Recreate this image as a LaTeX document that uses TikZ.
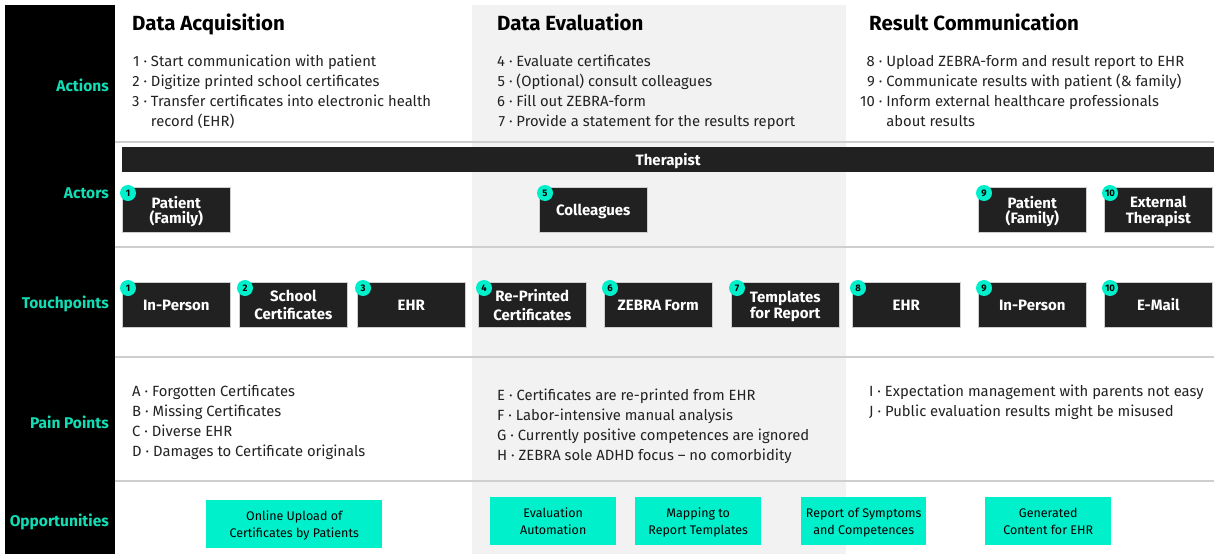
\documentclass[tikz,border=0pt]{standalone}
\usepackage{fontspec}
\setmainfont{Fira Sans}
\usetikzlibrary{positioning}

\definecolor{boxcolor}{RGB}{33,33,33}
\definecolor{accentcolor}{RGB}{0,240,204}
\definecolor{labelcolor}{RGB}{18,222,182}
\definecolor{bandcolor}{RGB}{242,242,242}
\definecolor{rulecolor}{RGB}{206,206,206}
\definecolor{textcolor}{RGB}{34,34,34}

\tikzset{
  rowlabel/.style={anchor=east, text=labelcolor, font=\bfseries\fontsize{15.5}{17}\selectfont, inner sep=0pt},
  heading/.style={anchor=base west, text=black, font=\bfseries\fontsize{20.5}{22}\selectfont, inner sep=0pt},
  listtext/.style={anchor=north west, text=textcolor, align=left, inner sep=0pt, font=\fontsize{14.8}{20}\selectfont},
  darkbox/.style={anchor=north west, fill=boxcolor, draw=rulecolor, line width=0.6pt, text=white, align=center,
    minimum width=108, minimum height=45, inner sep=0pt, text depth=0pt, font=\bfseries\fontsize{15}{15.5}\selectfont},
  badge/.style={circle, fill=accentcolor, text=black, inner sep=0pt, minimum size=16, font=\bfseries\fontsize{9.5}{10}\selectfont},
  oppbox/.style={anchor=north west, fill=accentcolor, text=black, align=center, minimum height=48, inner sep=0pt,
    text depth=0pt, font=\fontsize{12.5}{17}\selectfont}
}

\begin{document}
\begin{tikzpicture}[x=1pt, y=-1pt]
  \useasboundingbox (0,0) rectangle (1214,554);

  % Shaded middle phase and the dark label column
  \fill[bandcolor] (472,5) rectangle (846,554);
  \fill[black] (5,5) rectangle (115,554);

  % Rules between the rows
  \draw[rulecolor, line width=1.5pt] (115,142) -- (1214,142);
  \draw[rulecolor, line width=1.5pt] (115,247) -- (1214,247);
  \draw[rulecolor, line width=1.5pt] (115,357) -- (1214,357);
  \draw[rulecolor, line width=1.5pt] (115,481) -- (1214,481);

  % Row names
  \node[rowlabel] (lactions) at (109,85) {Actions};
  \node[rowlabel] (lactors) at (109,193) {Actors};
  \node[rowlabel] (ltouch) at (109,304) {Touchpoints};
  \node[rowlabel] (lpain) at (109,422) {Pain Points};
  \node[rowlabel] (lopp) at (109,522) {Opportunities};

  % Phase titles
  \node[heading] (hacq) at (132,30.5) {Data Acquisition};
  \node[heading] (heval) at (497,30.5) {Data Evaluation};
  \node[heading] (hcomm) at (869,30.5) {Result Communication};

  % Actions
  \node[listtext] (act1) at (132,52) {\begin{tabular}{@{}r@{ }c@{ }l@{}}
    1 & · & Start communication with patient\\
    2 & · & Digitize printed school certificates\\
    3 & · & Transfer certificates into electronic health\\
      &   & record (EHR)
  \end{tabular}};
  \node[listtext] (act2) at (497,52) {\begin{tabular}{@{}r@{ }c@{ }l@{}}
    4 & · & Evaluate certificates\\
    5 & · & (Optional) consult colleagues\\
    6 & · & Fill out ZEBRA-form\\
    7 & · & Provide a statement for the results report
  \end{tabular}};
  \node[listtext] (act3) at (860,52) {\begin{tabular}{@{}r@{ }c@{ }l@{}}
    8 & · & Upload ZEBRA-form and result report to EHR\\
    9 & · & Communicate results with patient (\& family)\\
    10 & · & Inform external healthcare professionals\\
       &   & about results
  \end{tabular}};

  % Actors
  \node[anchor=north west, fill=boxcolor, text=white, minimum width=1092, minimum height=25, inner sep=0pt,
    text depth=0pt, font=\bfseries\fontsize{15}{15}\selectfont] (therapist) at (122,147) {Therapist};
  \node[darkbox] (ac1) at (122,187) {Patient\\(Family)};
  \node[darkbox] (ac5) at (539,187) {Colleagues};
  \node[darkbox] (ac9) at (978,187) {Patient\\(Family)};
  \node[darkbox] (ac10) at (1104,187) {External\\Therapist};
  \node[badge] (bac1) at ([shift={(6,6)}]ac1.north west) {1};
  \node[badge] (bac5) at ([shift={(6,6)}]ac5.north west) {5};
  \node[badge] (bac9) at ([shift={(6,6)}]ac9.north west) {9};
  \node[badge] (bac10) at ([shift={(6,6)}]ac10.north west) {10};

  % Touchpoints
  \node[darkbox] (tp1) at (122,282) {In-Person};
  \node[darkbox] (tp2) at (239,282) {School\\[3pt]Certificates};
  \node[darkbox] (tp3) at (357,282) {EHR};
  \node[darkbox] (tp4) at (478,282) {Re-Printed\\[3pt]Certificates};
  \node[darkbox] (tp6) at (604,282) {ZEBRA Form};
  \node[darkbox] (tp7) at (731,282) {Templates\\for Report};
  \node[darkbox] (tp8) at (852,282) {EHR};
  \node[darkbox] (tp9) at (978,282) {In-Person};
  \node[darkbox] (tp10) at (1104,282) {E-Mail};
  \node[badge] (btp1) at ([shift={(6,6)}]tp1.north west) {1};
  \node[badge] (btp2) at ([shift={(6,6)}]tp2.north west) {2};
  \node[badge] (btp3) at ([shift={(6,6)}]tp3.north west) {3};
  \node[badge] (btp4) at ([shift={(6,6)}]tp4.north west) {4};
  \node[badge] (btp6) at ([shift={(6,6)}]tp6.north west) {6};
  \node[badge] (btp7) at ([shift={(6,6)}]tp7.north west) {7};
  \node[badge] (btp8) at ([shift={(6,6)}]tp8.north west) {8};
  \node[badge] (btp9) at ([shift={(6,6)}]tp9.north west) {9};
  \node[badge] (btp10) at ([shift={(6,6)}]tp10.north west) {10};

  % Pain points
  \node[listtext] (pain1) at (132,384.5) {A · Forgotten Certificates\\
    B · Missing Certificates\\
    C · Diverse EHR\\
    D · Damages to Certificate originals};
  \node[listtext] (pain2) at (497,388.5) {E · Certificates are re-printed from EHR\\
    F · Labor-intensive manual analysis\\
    G · Currently positive competences are ignored\\
    H · ZEBRA sole ADHD focus -- no comorbidity};
  \node[listtext] (pain3) at (869,384.5) {I · Expectation management with parents not easy\\
    J · Public evaluation results might be misused};

  % Opportunities
  \node[oppbox, minimum width=176] (opp1) at (206,500) {Online Upload of\\Certificates by Patients};
  \node[oppbox, minimum width=126] (opp2) at (490,497) {Evaluation\\Automation};
  \node[oppbox, minimum width=126] (opp3) at (635,497) {Mapping to\\Report Templates};
  \node[oppbox, minimum width=125] (opp4) at (801,497) {Report of Symptoms\\and Competences};
  \node[oppbox, minimum width=126] (opp5) at (985,497) {Generated\\Content for EHR};
\end{tikzpicture}
\end{document}
